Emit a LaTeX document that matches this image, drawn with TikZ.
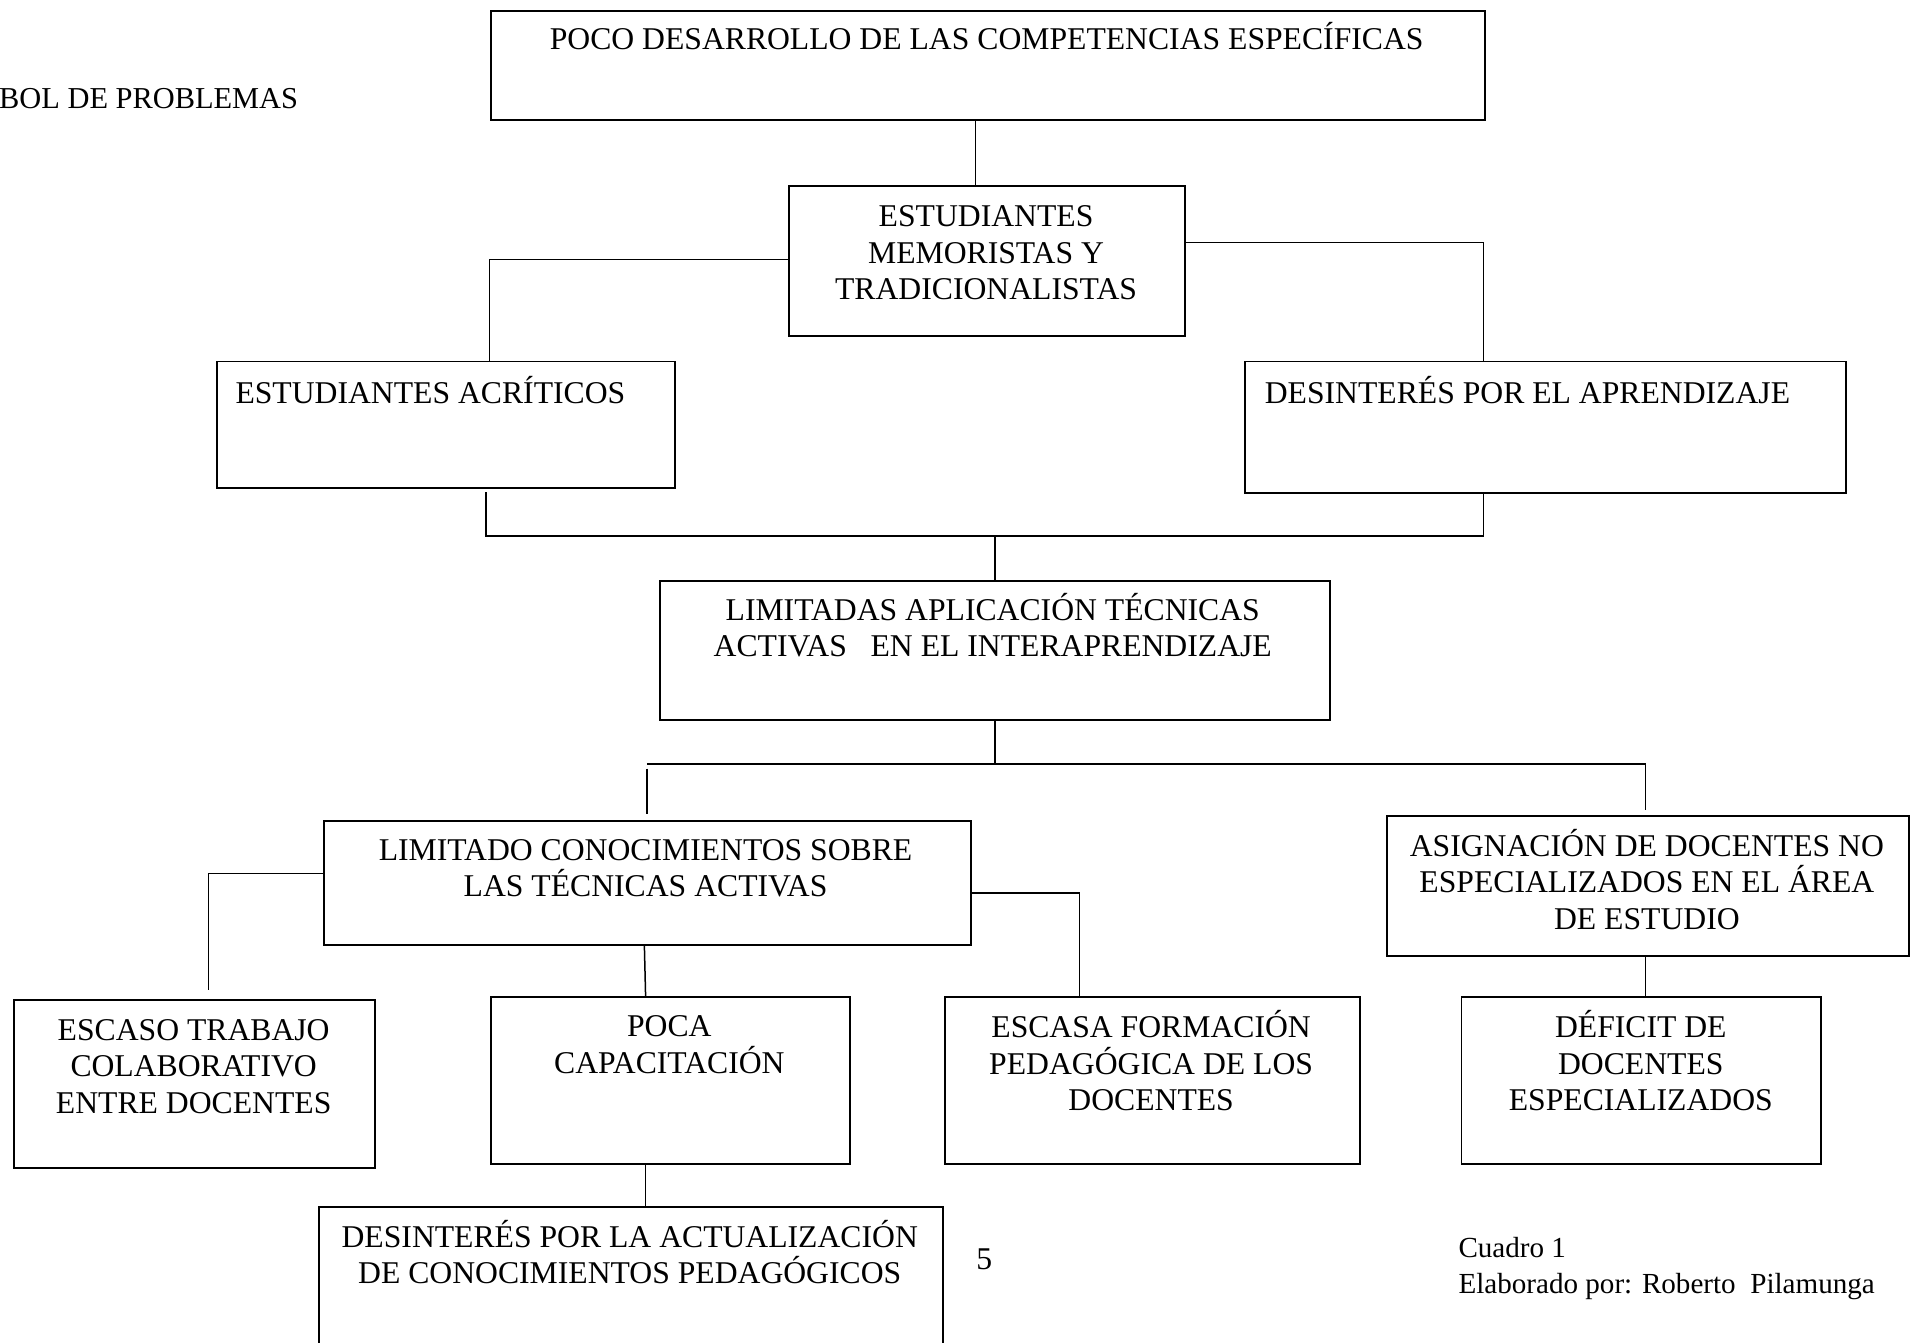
\documentclass[tikz,border=0pt]{standalone}
\usepackage{fontspec}
\setmainfont{Liberation Serif}
\newdimen\pxu \pxu=0.02cm
\tikzset{
  box/.style={draw, line width=0.9pt, inner sep=0pt, anchor=north west},
  txt/.style={font=\fontsize{14.8}{17.07}\selectfont, inner sep=0pt, align=center, anchor=base},
  ltxt/.style={font=\fontsize{14.8}{17.07}\selectfont, inner sep=0pt, anchor=base west},
  stxt/.style={font=\fontsize{13.6}{17.07}\selectfont, inner sep=0pt, anchor=base west},
  conn/.style={line width=0.7pt},
}
\begin{document}
\begin{tikzpicture}[x=0.02cm,y=-0.02cm]
\useasboundingbox (0,0) rectangle (1568,1102.5);
% boxes
\node[box, minimum width=816\pxu, minimum height=90\pxu] (b1) at (402,8) {};
\node[box, minimum width=325\pxu, minimum height=123\pxu] (b2) at (647,152) {};
\node[box, minimum width=376\pxu, minimum height=104\pxu] (b3) at (177,296) {};
\node[box, minimum width=494\pxu, minimum height=108\pxu] (b4) at (1021,296) {};
\node[box, minimum width=550\pxu, minimum height=114\pxu] (b5) at (541,476) {};
\node[box, minimum width=531\pxu, minimum height=102\pxu] (b6) at (265,673) {};
\node[box, minimum width=428\pxu, minimum height=115\pxu] (b7) at (1138,669) {};
\node[box, minimum width=296\pxu, minimum height=138\pxu] (b8) at (11,820) {};
\node[box, minimum width=295\pxu, minimum height=137\pxu] (b9) at (402,818) {};
\node[box, minimum width=341\pxu, minimum height=137\pxu] (b10) at (775,818) {};
\node[box, minimum width=295\pxu, minimum height=137\pxu] (b11) at (1199,818) {};
\node[box, minimum width=512\pxu, minimum height=140\pxu] (b12) at (261,990) {};
% texts (anchor base = baseline of the last line)
\node[ltxt, font=\fontsize{14.2}{17.07}\selectfont] (t0) at (-1,89) {BOL DE PROBLEMAS};
\node[txt] (t1) at (810,41) {POCO DESARROLLO DE LAS COMPETENCIAS ESPECÍFICAS};
\node[txt] (t2) at (809.5,246) {ESTUDIANTES\\MEMORISTAS Y\\TRADICIONALISTAS};
\node[ltxt] (t3) at (193,331) {ESTUDIANTES ACRÍTICOS};
\node[ltxt] (t4) at (1038,331) {DESINTERÉS POR EL APRENDIZAJE};
\node[txt] (t5) at (815,539) {LIMITADAS APLICACIÓN TÉCNICAS\\ACTIVAS\ \ \ EN EL INTERAPRENDIZAJE};
\node[txt] (t6) at (530,736) {LIMITADO CONOCIMIENTOS SOBRE\\LAS TÉCNICAS ACTIVAS};
\node[txt] (t7) at (1352,763) {ASIGNACIÓN DE DOCENTES NO\\ESPECIALIZADOS EN EL ÁREA\\DE ESTUDIO};
\node[txt] (t8) at (159,914) {ESCASO TRABAJO\\COLABORATIVO\\ENTRE DOCENTES};
\node[txt] (t9) at (549.5,881) {POCA\\CAPACITACIÓN};
\node[txt] (t10) at (945,912) {ESCASA FORMACIÓN\\PEDAGÓGICA DE LOS\\DOCENTES};
\node[txt] (t11) at (1347,912) {DÉFICIT DE\\DOCENTES\\ESPECIALIZADOS};
\node[txt] (t12) at (517,1054) {DESINTERÉS POR LA ACTUALIZACIÓN\\DE CONOCIMIENTOS PEDAGÓGICOS};
\node[txt] (t13) at (808,1042) {5};
\node[stxt] (t14) at (1197,1032) {Cuadro 1};
\node[stxt] (t15) at (1197,1062) {Elaborado por: Roberto\ \ Pilamunga};
% junction coordinates
\coordinate (c3) at (399,404);
\coordinate (j1) at (817,440);
\coordinate (j2) at (817,627);
\coordinate (h2l) at (531,627);
\coordinate (h2r) at (1351,627);
\coordinate (c6t) at (531,631);
\coordinate (c6) at (531,668);
\coordinate (c7) at (1351,665);
\coordinate (c8) at (171,813);
% connectors
\draw[conn] (801,0 |- b1.south) -- (801,0 |- b2.north);
\draw[conn] (b2.west |- 0,213) -| (402,0 |- b3.north);
\draw[conn] (b2.east |- 0,199) -| (1218,0 |- b4.north);
\draw[conn] (c3) |- (j1) -| (1218,0 |- b4.south);
\draw[conn] (j1) -- (817,0 |- b5.north);
\draw[conn] (817,0 |- b5.south) -- (j2);
\draw[conn] (h2l) -- (h2r);
\draw[conn] (c6t) -- (c6);
\draw[conn] (h2r) -- (c7);
\draw[conn] (b6.west |- 0,717) -| (c8);
\draw[conn] (b6.east |- 0,733) -| (886,0 |- b10.north);
\draw[conn] (529,0 |- b6.south) -- (530,0 |- b9.north);
\draw[conn] (530,0 |- b9.south) -- (530,0 |- b12.north);
\draw[conn] (1351,0 |- b7.south) -- (1351,0 |- b11.north);
\end{tikzpicture}
\end{document}
